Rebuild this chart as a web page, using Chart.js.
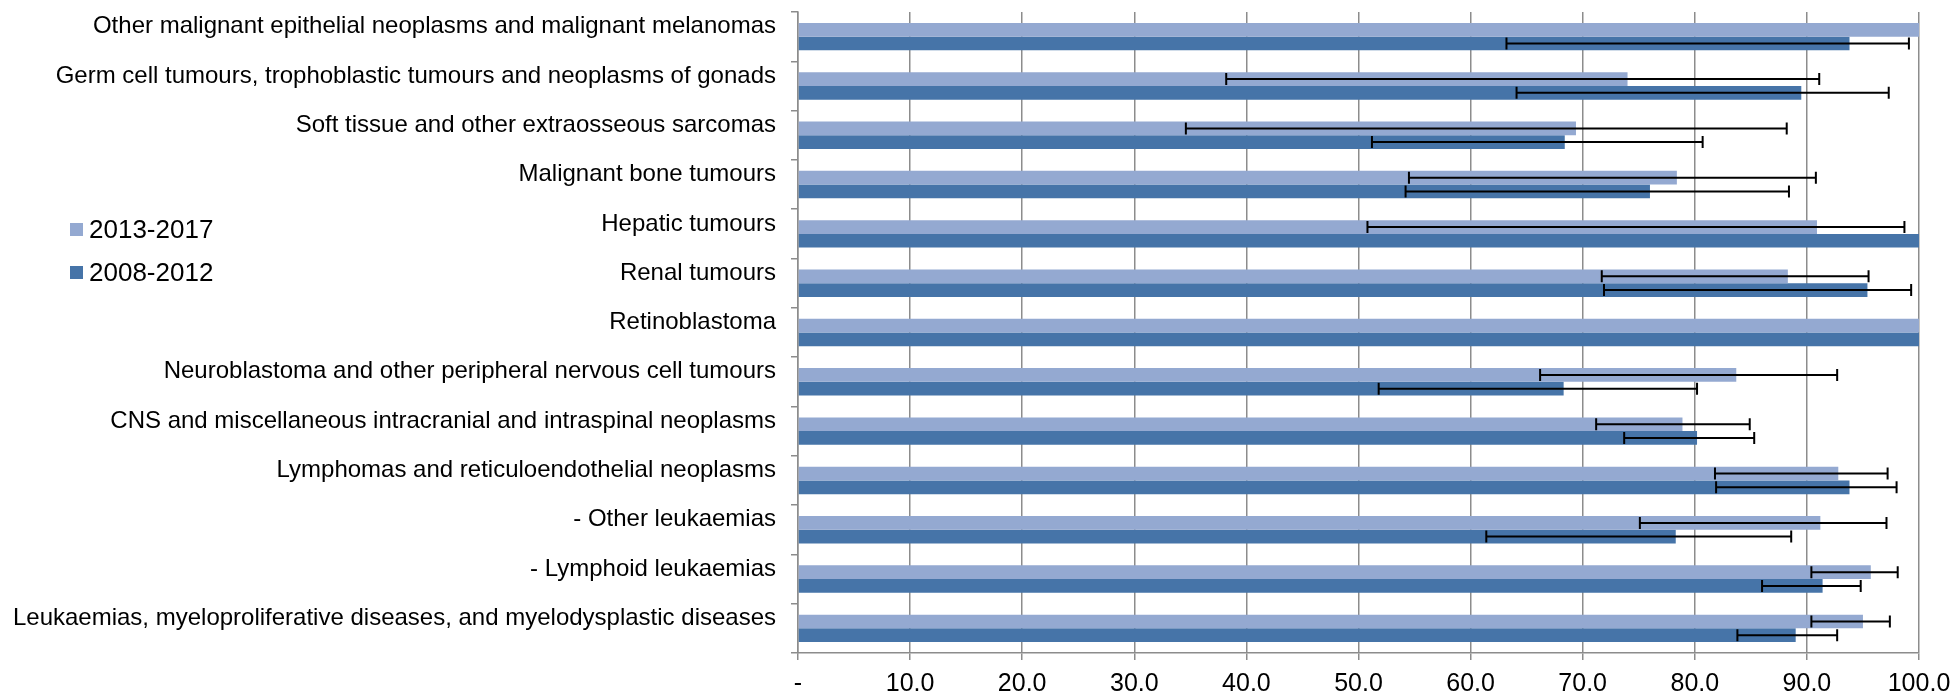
<!DOCTYPE html>
<html>
<head>
<meta charset="utf-8">
<script src="https://cdn.jsdelivr.net/npm/chart.js@4.4.1/dist/chart.umd.min.js"></script>
<style>
  html, body { margin: 0; padding: 0; background: #fff; }
  #wrap { position: relative; width: 1957px; height: 696px; }
  #legend { position: absolute; left: 70px; top: 208px; font-family: "Liberation Sans", Arial, sans-serif; font-size: 26px; color: #000; }
  .item { display: flex; align-items: center; height: 43px; }
  .swatch { width: 13px; height: 13px; margin-right: 6px; }
</style>
</head>
<body>
<div id="wrap">
  <canvas id="chart" width="1957" height="696"></canvas>
  <div id="legend"></div>
</div>
<script>
// categories, top to bottom
const categories = [
  'Other malignant epithelial neoplasms and malignant melanomas',
  'Germ cell tumours, trophoblastic tumours and neoplasms of gonads',
  'Soft tissue and other extraosseous sarcomas',
  'Malignant bone tumours',
  'Hepatic tumours',
  'Renal tumours',
  'Retinoblastoma',
  'Neuroblastoma and other peripheral nervous cell tumours',
  'CNS and miscellaneous intracranial and intraspinal neoplasms',
  'Lymphomas and reticuloendothelial neoplasms',
  '- Other leukaemias',
  '- Lymphoid leukaemias',
  'Leukaemias, myeloproliferative diseases, and myelodysplastic diseases',
];

const seriesNames = ['2013-2017', '2008-2012'];
const seriesColors = ['#94a9d1', '#4674a8'];

// 2013-2017
const recent = [100, 74.0, 69.4, 78.4, 90.9, 88.3, 100, 83.7, 78.9, 92.8, 91.2, 95.7, 95.0];
const recentLow = [null, 38.2, 34.6, 54.5, 50.8, 71.7, null, 66.2, 71.2, 81.8, 75.1, 90.4, 90.4];
const recentHigh = [null, 91.1, 88.2, 90.8, 98.7, 95.5, null, 92.7, 84.9, 97.2, 97.1, 98.1, 97.4];

// 2008-2012
const earlier = [93.8, 89.5, 68.4, 76.0, 100, 95.4, 100, 68.3, 80.2, 93.8, 78.3, 91.4, 89.0];
const earlierLow = [63.2, 64.1, 51.2, 54.2, null, 71.9, null, 51.8, 73.7, 81.9, 61.4, 86.0, 83.8];
const earlierHigh = [99.1, 97.3, 80.7, 88.4, null, 99.3, null, 80.2, 85.3, 98.0, 88.6, 94.8, 92.7];

const xTicks = [0, 10, 20, 30, 40, 50, 60, 70, 80, 90, 100];

const errorRanges = [
  { low: recentLow, high: recentHigh },
  { low: earlierLow, high: earlierHigh },
];

// draws the confidence intervals as black whiskers on top of the bars
const errorBars = {
  id: 'errorBars',
  afterDatasetsDraw(chart) {
    const ctx = chart.ctx;
    const xScale = chart.scales.x;
    ctx.save();
    ctx.strokeStyle = '#000';
    ctx.lineWidth = 2;
    errorRanges.forEach((range, d) => {
      const meta = chart.getDatasetMeta(d);
      meta.data.forEach((bar, i) => {
        if (range.low[i] == null) return;
        const x1 = xScale.getPixelForValue(range.low[i]);
        const x2 = xScale.getPixelForValue(range.high[i]);
        const y = bar.y;
        ctx.beginPath();
        ctx.moveTo(x1, y);
        ctx.lineTo(x2, y);
        ctx.moveTo(x1, y - 6);
        ctx.lineTo(x1, y + 6);
        ctx.moveTo(x2, y - 6);
        ctx.lineTo(x2, y + 6);
        ctx.stroke();
      });
    });
    ctx.restore();
  },
};

const legendEl = document.getElementById('legend');
legendEl.innerHTML = seriesNames
  .map((name, i) => `<div class="item"><span class="swatch" style="background:${seriesColors[i]}"></span>${name}</div>`)
  .join('');

new Chart(document.getElementById('chart'), {
  type: 'bar',
  data: {
    labels: categories,
    datasets: [
      { label: seriesNames[0], data: recent, backgroundColor: seriesColors[0] },
      { label: seriesNames[1], data: earlier, backgroundColor: seriesColors[1] },
    ],
  },
  options: {
    indexAxis: 'y',
    responsive: false,
    animation: false,
    categoryPercentage: 0.556,
    barPercentage: 1.0,
    layout: { padding: { top: 12, right: 38, left: 0, bottom: 0 } },
    plugins: {
      legend: { display: false },
      tooltip: { enabled: false },
    },
    scales: {
      x: {
        min: 0,
        max: 100,
        afterBuildTicks: (scale) => {
          scale.ticks = xTicks.map((v) => ({ value: v }));
        },
        afterFit: (scale) => {
          scale.height = 43;
          scale.paddingLeft = 0;
          scale.paddingRight = 0;
        },
        ticks: {
          padding: 9,
          color: '#000',
          font: { family: '"Liberation Sans", Arial, sans-serif', size: 25 },
          maxRotation: 0,
          callback: (v) => (v === 0 ? '-' : v.toFixed(1)),
        },
        grid: { color: '#8c8c8c', lineWidth: 1.5, tickLength: 7 },
        border: { color: '#8c8c8c', width: 1.5 },
      },
      y: {
        afterFit: (scale) => {
          scale.width = 798;
          scale.paddingTop = 0;
          scale.paddingBottom = 0;
        },
        ticks: {
          padding: 15,
          labelOffset: -10,
          color: '#000',
          autoSkip: false,
          font: { family: '"Liberation Sans", Arial, sans-serif', size: 24 },
        },
        grid: { drawOnChartArea: false, color: '#8c8c8c', lineWidth: 1.5, tickLength: 7 },
        border: { color: '#8c8c8c', width: 1.5 },
      },
    },
  },
  plugins: [errorBars],
});
</script>
</body>
</html>
